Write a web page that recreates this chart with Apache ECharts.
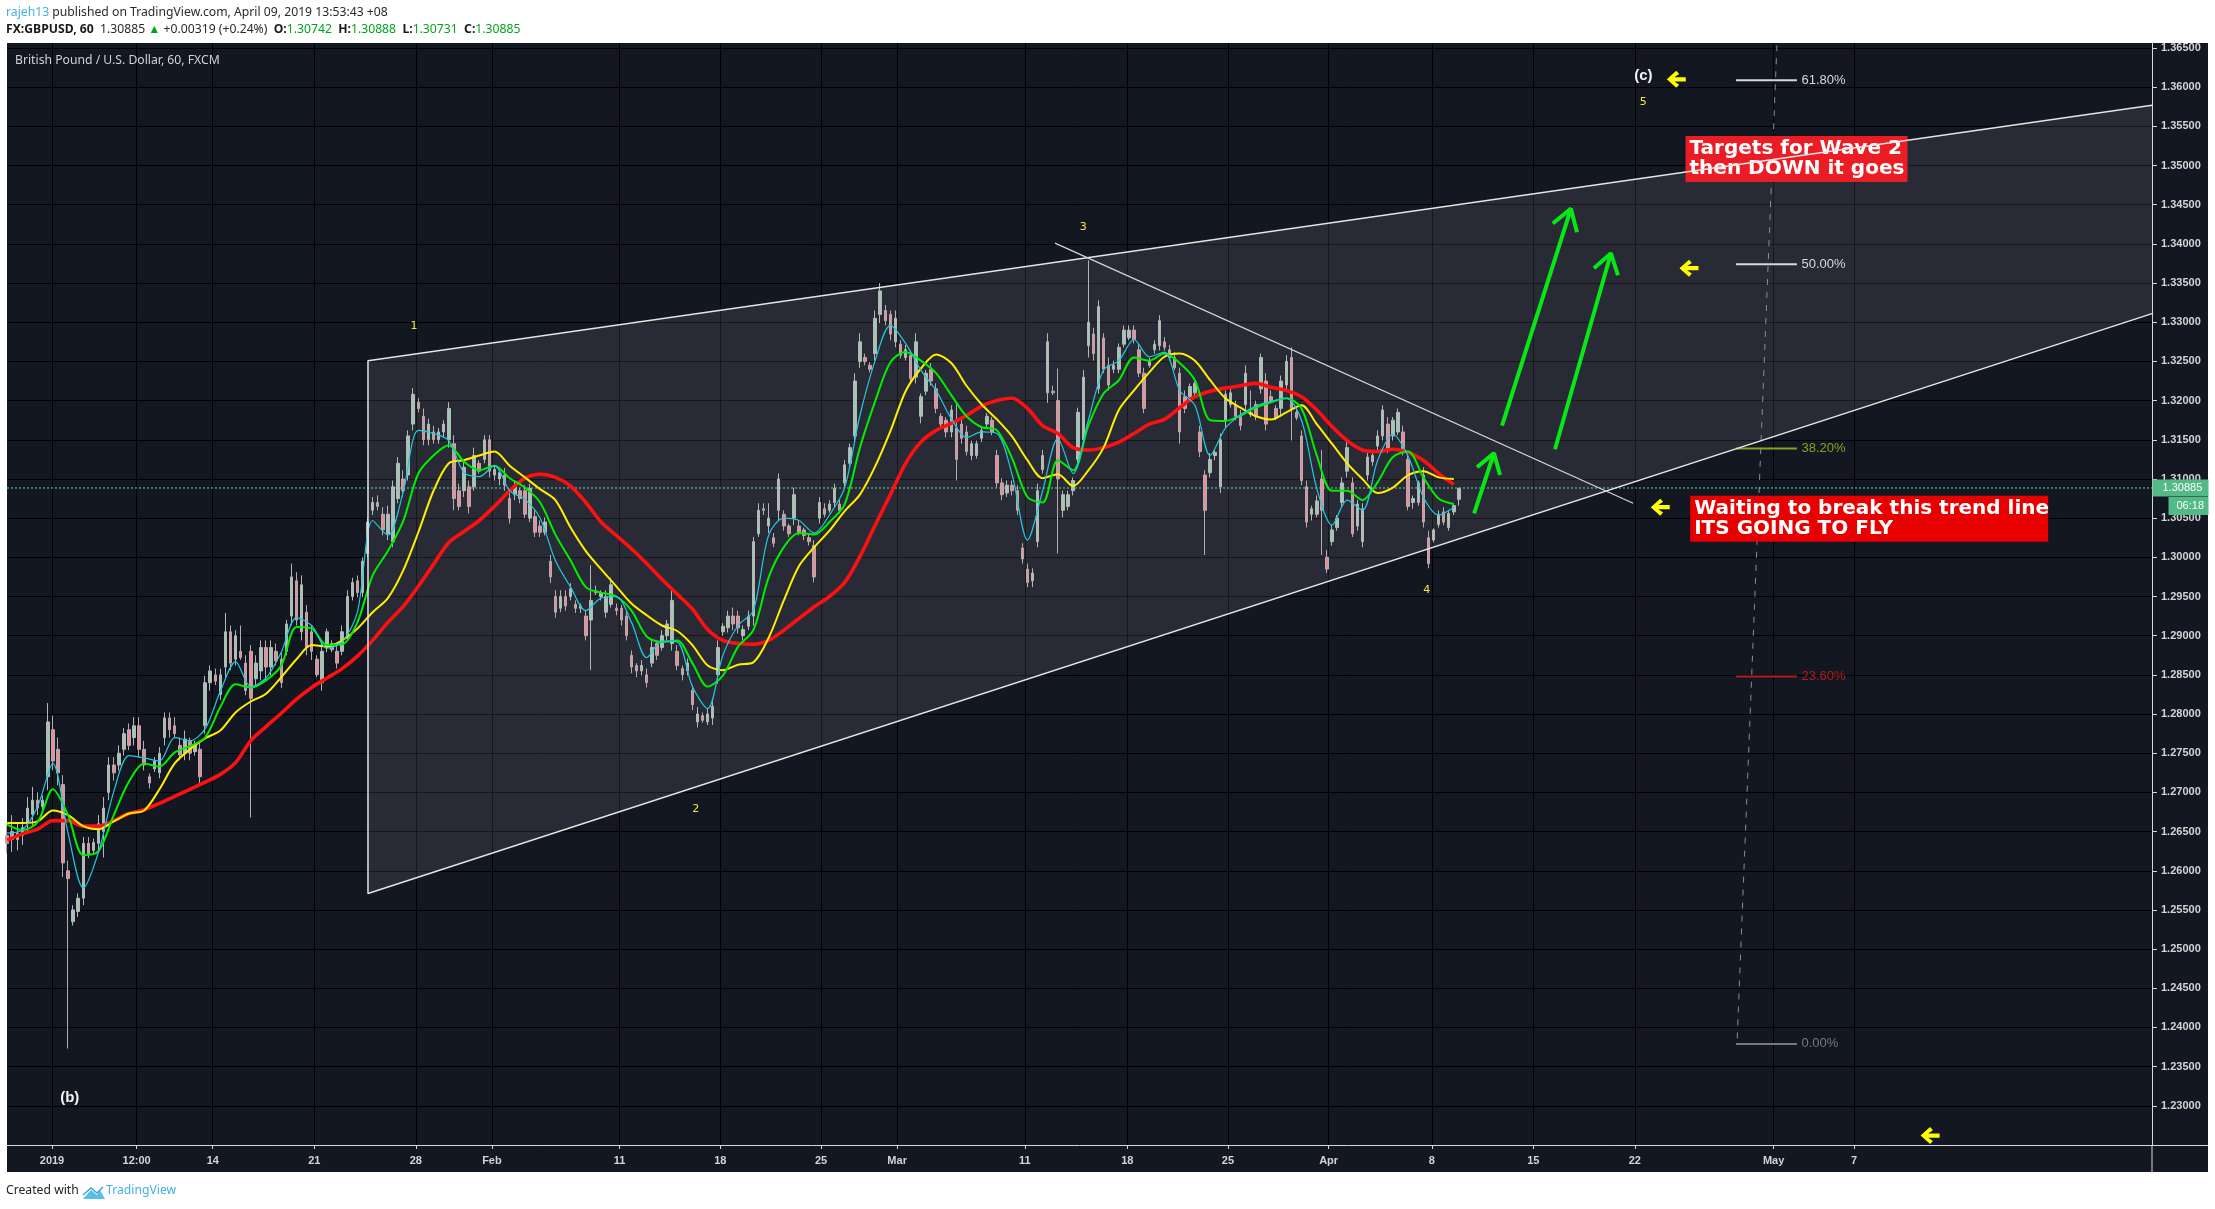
<!DOCTYPE html>
<html><head><meta charset="utf-8">
<style>html,body{margin:0;padding:0;background:#fff}#c{width:2215px;height:1209px}</style>
<script src="https://cdn.jsdelivr.net/npm/echarts@6/dist/echarts.min.js"></script>
</head><body><div id="c"></div>
<script>
const candleHigh=[
1.2658,1.2671,1.2662,1.2667,1.2694,1.2707,1.2700,1.2696,1.2814,1.2798,
1.2770,1.2722,1.2613,1.2556,1.2571,1.2643,1.2643,1.2641,1.2671,1.2694,
1.2745,1.2745,1.2760,1.2782,1.2788,1.2796,1.2796,1.2766,1.2724,1.2745,
1.2758,1.2802,1.2802,1.2796,1.2770,1.2779,1.2770,1.2766,1.2763,1.2849,
1.2862,1.2858,1.2858,1.2929,1.2913,1.2907,1.2913,1.2875,1.2888,1.2875,
1.2894,1.2894,1.2894,1.2890,1.2878,1.2920,1.2992,1.2981,1.2977,1.2939,
1.2913,1.2875,1.2890,1.2909,1.2894,1.2888,1.2913,1.2958,1.2974,1.2977,
1.3000,1.3051,1.3077,1.3079,1.3064,1.3066,1.3098,1.3128,1.3111,1.3162,
1.3216,1.3203,1.3190,1.3177,1.3168,1.3165,1.3175,1.3198,1.3156,1.3094,
1.3124,1.3098,1.3140,1.3124,1.3156,1.3156,1.3117,1.3111,1.3114,1.3082,
1.3098,1.3089,1.3092,1.3094,1.3060,1.3047,1.3051,1.3003,1.2958,1.2958,
1.2958,1.2967,1.2945,1.2941,1.2932,1.2990,1.2964,1.2958,1.2958,1.2974,
1.2941,1.2939,1.2932,1.2881,1.2865,1.2869,1.2858,1.2894,1.2894,1.2907,
1.2920,1.2958,1.2888,1.2862,1.2871,1.2837,1.2809,1.2802,1.2807,1.2818,
1.2894,1.2916,1.2932,1.2936,1.2932,1.2913,1.2932,1.3026,1.3069,1.3069,
1.3069,1.3031,1.3107,1.3060,1.3043,1.3089,1.3047,1.3038,1.3031,1.3022,
1.3077,1.3069,1.3073,1.3094,1.3073,1.3124,1.3145,1.3235,1.3286,1.3260,
1.3249,1.3315,1.3350,1.3322,1.3315,1.3315,1.3277,1.3271,1.3264,1.3286,
1.3209,1.3239,1.3248,1.3222,1.3184,1.3179,1.3194,1.3197,1.3179,1.3168,
1.3149,1.3149,1.3166,1.3184,1.3179,1.3137,1.3101,1.3098,1.3098,1.3092,
1.3018,1.2992,1.2986,1.3094,1.3137,1.3286,1.3219,1.3241,1.3085,1.3085,
1.3102,1.3191,1.3239,1.3379,1.3293,1.3328,1.3286,1.3255,1.3251,1.3273,
1.3296,1.3296,1.3296,1.3273,1.3242,1.3255,1.3277,1.3309,1.3281,1.3271,
1.3262,1.3242,1.3213,1.3222,1.3226,1.3168,1.3111,1.3133,1.3137,1.3158,
1.3213,1.3217,1.3200,1.3188,1.3245,1.3213,1.3200,1.3260,1.3235,1.3213,
1.3194,1.3232,1.3258,1.3268,1.3191,1.3162,1.3098,1.3066,1.3079,1.3137,
1.3009,1.3041,1.3054,1.3102,1.3147,1.3102,1.3073,1.3069,1.3133,1.3133,
1.3162,1.3194,1.3179,1.3179,1.3190,1.3168,1.3133,1.3079,1.3098,1.3115,
1.3034,1.3037,1.3060,1.3064,1.3060,1.3069,1.3089];
const candleLow=[
1.2622,1.2624,1.2626,1.2633,1.2648,1.2658,1.2671,1.2675,1.2703,1.2728,
1.2709,1.2592,1.2373,1.2530,1.2541,1.2556,1.2616,1.2622,1.2626,1.2617,
1.2690,1.2715,1.2728,1.2747,1.2754,1.2760,1.2745,1.2728,1.2705,1.2726,
1.2718,1.2760,1.2770,1.2770,1.2741,1.2741,1.2741,1.2747,1.2709,1.2775,
1.2830,1.2837,1.2818,1.2847,1.2856,1.2862,1.2869,1.2824,1.2668,1.2837,
1.2843,1.2843,1.2849,1.2862,1.2833,1.2875,1.2913,1.2913,1.2894,1.2875,
1.2869,1.2847,1.2830,1.2879,1.2879,1.2858,1.2875,1.2894,1.2945,1.2949,
1.2949,1.3000,1.3054,1.3060,1.3028,1.3022,1.3013,1.3069,1.3077,1.3098,
1.3162,1.3185,1.3143,1.3143,1.3145,1.3145,1.3153,1.3140,1.3060,1.3060,
1.3077,1.3056,1.3085,1.3107,1.3120,1.3102,1.3098,1.3092,1.3085,1.3043,
1.3073,1.3069,1.3050,1.3045,1.3026,1.3026,1.3028,1.2967,1.2923,1.2930,
1.2932,1.2945,1.2929,1.2929,1.2894,1.2856,1.2952,1.2945,1.2923,1.2936,
1.2926,1.2913,1.2894,1.2852,1.2847,1.2849,1.2834,1.2860,1.2869,1.2881,
1.2894,1.2881,1.2856,1.2843,1.2849,1.2805,1.2783,1.2789,1.2786,1.2786,
1.2839,1.2900,1.2904,1.2907,1.2903,1.2894,1.2907,1.2913,1.3026,1.3054,
1.3031,1.3013,1.3047,1.3034,1.3026,1.3041,1.3028,1.3022,1.3015,1.2968,
1.3043,1.3051,1.3057,1.3064,1.3056,1.3089,1.3115,1.3149,1.3242,1.3245,
1.3236,1.3251,1.3299,1.3296,1.3277,1.3268,1.3254,1.3251,1.3222,1.3222,
1.3171,1.3207,1.3219,1.3184,1.3166,1.3153,1.3153,1.3098,1.3145,1.3130,
1.3124,1.3126,1.3147,1.3166,1.3156,1.3089,1.3073,1.3077,1.3079,1.3054,
1.2992,1.2962,1.2962,1.3013,1.3107,1.3197,1.3207,1.3005,1.3051,1.3060,
1.3079,1.3120,1.3143,1.3255,1.3251,1.3209,1.3235,1.3213,1.3235,1.3235,
1.3268,1.3277,1.3273,1.3230,1.3184,1.3242,1.3260,1.3264,1.3264,1.3251,
1.3239,1.3145,1.3184,1.3200,1.3204,1.3128,1.3003,1.3102,1.3124,1.3082,
1.3166,1.3191,1.3175,1.3162,1.3188,1.3179,1.3175,1.3209,1.3162,1.3198,
1.3175,1.3181,1.3213,1.3149,1.3175,1.3092,1.3038,1.3047,1.3051,1.3003,
1.2980,1.3015,1.3034,1.3064,1.3102,1.3026,1.3034,1.3013,1.3098,1.3117,
1.3137,1.3149,1.3133,1.3149,1.3156,1.3130,1.3060,1.3062,1.3066,1.3038,
1.2986,1.3019,1.3038,1.3041,1.3034,1.3054,1.3066];
const candleOpen=[
1.2645,1.2650,1.2640,1.2645,1.2660,1.2672,1.2690,1.2682,1.2720,1.2780,
1.2755,1.2710,1.2600,1.2535,1.2548,1.2565,1.2635,1.2626,1.2635,1.2650,
1.2700,1.2735,1.2735,1.2755,1.2780,1.2770,1.2785,1.2755,1.2720,1.2730,
1.2725,1.2770,1.2795,1.2785,1.2760,1.2750,1.2765,1.2752,1.2755,1.2785,
1.2840,1.2850,1.2825,1.2860,1.2905,1.2870,1.2880,1.2865,1.2880,1.2845,
1.2855,1.2885,1.2860,1.2880,1.2870,1.2880,1.2925,1.2970,1.2905,1.2930,
1.2905,1.2870,1.2840,1.2885,1.2890,1.2880,1.2880,1.2900,1.2950,1.2970,
1.2955,1.3005,1.3060,1.3070,1.3055,1.3030,1.3020,1.3075,1.3100,1.3105,
1.3170,1.3198,1.3180,1.3150,1.3160,1.3150,1.3160,1.3150,1.3145,1.3085,
1.3085,1.3090,1.3090,1.3120,1.3125,1.3150,1.3105,1.3100,1.3105,1.3075,
1.3080,1.3085,1.3085,1.3050,1.3052,1.3040,1.3032,1.2995,1.2950,1.2935,
1.2950,1.2950,1.2940,1.2935,1.2925,1.2920,1.2957,1.2950,1.2930,1.2940,
1.2935,1.2935,1.2925,1.2875,1.2862,1.2855,1.2850,1.2865,1.2890,1.2885,
1.2900,1.2890,1.2880,1.2858,1.2855,1.2830,1.2790,1.2798,1.2790,1.2795,
1.2850,1.2905,1.2910,1.2925,1.2925,1.2900,1.2912,1.2925,1.3030,1.3062,
1.3040,1.3025,1.3060,1.3055,1.3040,1.3050,1.3040,1.3035,1.3025,1.3015,
1.3050,1.3062,1.3060,1.3070,1.3068,1.3095,1.3120,1.3155,1.3250,1.3255,
1.3245,1.3260,1.3310,1.3315,1.3310,1.3275,1.3272,1.3255,1.3258,1.3230,
1.3180,1.3212,1.3240,1.3215,1.3180,1.3175,1.3160,1.3165,1.3170,1.3160,
1.3130,1.3130,1.3152,1.3170,1.3175,1.3130,1.3095,1.3082,1.3092,1.3085,
1.3012,1.2985,1.2970,1.3020,1.3112,1.3210,1.3212,1.3200,1.3060,1.3065,
1.3085,1.3125,1.3150,1.3270,1.3285,1.3215,1.3280,1.3245,1.3240,1.3240,
1.3272,1.3280,1.3290,1.3265,1.3235,1.3245,1.3265,1.3270,1.3275,1.3265,
1.3255,1.3235,1.3205,1.3205,1.3210,1.3160,1.3105,1.3108,1.3130,1.3090,
1.3175,1.3195,1.3195,1.3180,1.3195,1.3185,1.3195,1.3215,1.3225,1.3205,
1.3190,1.3190,1.3220,1.3255,1.3185,1.3155,1.3090,1.3055,1.3055,1.3100,
1.3000,1.3020,1.3038,1.3070,1.3110,1.3095,1.3040,1.3020,1.3105,1.3122,
1.3142,1.3155,1.3170,1.3155,1.3160,1.3160,1.3125,1.3070,1.3070,1.3105,
1.3025,1.3022,1.3042,1.3058,1.3038,1.3058,1.3074];
const candleClose=[
1.2635,1.2640,1.2648,1.2655,1.2680,1.2690,1.2680,1.2690,1.2790,1.2740,
1.2725,1.2610,1.2590,1.2550,1.2565,1.2635,1.2622,1.2636,1.2660,1.2680,
1.2735,1.2725,1.2750,1.2775,1.2760,1.2785,1.2755,1.2735,1.2712,1.2740,
1.2750,1.2795,1.2780,1.2775,1.2748,1.2768,1.2750,1.2760,1.2720,1.2840,
1.2855,1.2842,1.2850,1.2905,1.2865,1.2900,1.2872,1.2830,1.2820,1.2865,
1.2885,1.2860,1.2885,1.2868,1.2840,1.2915,1.2975,1.2920,1.2965,1.2885,
1.2880,1.2850,1.2880,1.2905,1.2882,1.2865,1.2905,1.2950,1.2968,1.2955,
1.2995,1.3045,1.3070,1.3065,1.3035,1.3055,1.3090,1.3120,1.3085,1.3155,
1.3208,1.3190,1.3150,1.3170,1.3150,1.3160,1.3170,1.3190,1.3075,1.3065,
1.3115,1.3065,1.3130,1.3110,1.3150,1.3110,1.3112,1.3108,1.3092,1.3050,
1.3090,1.3075,1.3055,1.3088,1.3032,1.3032,1.3045,1.2975,1.2930,1.2950,
1.2938,1.2960,1.2935,1.2938,1.2900,1.2945,1.2955,1.2955,1.2950,1.2965,
1.2932,1.2920,1.2900,1.2860,1.2855,1.2862,1.2840,1.2885,1.2875,1.2900,
1.2915,1.2945,1.2862,1.2850,1.2865,1.2812,1.2800,1.2792,1.2800,1.2810,
1.2885,1.2912,1.2925,1.2915,1.2910,1.2908,1.2925,1.3020,1.3060,1.3060,
1.3050,1.3018,1.3100,1.3040,1.3030,1.3080,1.3032,1.3028,1.3020,1.2975,
1.3070,1.3055,1.3068,1.3088,1.3060,1.3118,1.3140,1.3225,1.3275,1.3250,
1.3240,1.3305,1.3340,1.3302,1.3285,1.3305,1.3258,1.3265,1.3228,1.3275,
1.3205,1.3235,1.3225,1.3190,1.3170,1.3160,1.3188,1.3125,1.3152,1.3135,
1.3145,1.3145,1.3162,1.3180,1.3160,1.3095,1.3080,1.3092,1.3085,1.3060,
1.2998,1.2968,1.2980,1.3085,1.3130,1.3275,1.3210,1.3100,1.3080,1.3080,
1.3098,1.3185,1.3230,1.3300,1.3260,1.3320,1.3240,1.3220,1.3245,1.3268,
1.3290,1.3290,1.3278,1.3235,1.3190,1.3250,1.3272,1.3302,1.3268,1.3255,
1.3242,1.3160,1.3190,1.3218,1.3222,1.3135,1.3060,1.3125,1.3134,1.3150,
1.3208,1.3210,1.3180,1.3168,1.3235,1.3182,1.3180,1.3255,1.3170,1.3200,
1.3178,1.3225,1.3250,1.3190,1.3178,1.3098,1.3045,1.3062,1.3072,1.3060,
1.2985,1.3035,1.3050,1.3095,1.3140,1.3030,1.3068,1.3062,1.3128,1.3130,
1.3155,1.3188,1.3138,1.3175,1.3185,1.3135,1.3065,1.3075,1.3095,1.3045,
1.2992,1.3035,1.3055,1.3045,1.3056,1.3066,1.3088];

const maRed=[1.2639,1.2647,1.2653,1.2664,1.2664,1.2657,1.2657,1.2664,1.2673,1.2678,1.2686,1.2695,1.2704,1.2713,1.2723,1.2738,1.2766,1.2784,1.2801,1.2819,1.2834,1.2846,1.2858,1.2874,1.2894,1.2917,1.2937,1.2963,1.2991,1.3019,1.3033,1.3047,1.3065,1.3085,1.3101,1.3106,1.3102,1.3091,1.3070,1.3045,1.3028,1.3011,1.2992,1.2972,1.2953,1.2934,1.2908,1.2894,1.2890,1.2889,1.2894,1.2907,1.2922,1.2937,1.2950,1.2968,1.3001,1.3041,1.3080,1.3120,1.3147,1.3162,1.3171,1.3181,1.3193,1.3200,1.3203,1.3190,1.3168,1.3158,1.3140,1.3137,1.3140,1.3147,1.3158,1.3170,1.3176,1.3191,1.3205,1.3212,1.3216,1.3219,1.3222,1.3217,1.3213,1.3205,1.3188,1.3167,1.3149,1.3137,1.3135,1.3138,1.3134,1.3124,1.3107,1.3093];
const maYellow=[1.2661,1.2661,1.2663,1.2677,1.2671,1.2657,1.2653,1.2663,1.2673,1.2677,1.2704,1.2737,1.2755,1.2769,1.2779,1.2802,1.2816,1.2826,1.2847,1.2870,1.2888,1.2886,1.2894,1.2909,1.2930,1.2948,1.2983,1.3032,1.3085,1.3120,1.3124,1.3130,1.3135,1.3117,1.3102,1.3087,1.3073,1.3038,1.3008,1.2985,1.2963,1.2941,1.2926,1.2913,1.2906,1.2888,1.2862,1.2856,1.2863,1.2866,1.2897,1.2945,1.2989,1.3013,1.3034,1.3059,1.3080,1.3116,1.3161,1.3212,1.3241,1.3259,1.3248,1.3219,1.3195,1.3176,1.3154,1.3124,1.3101,1.3106,1.3091,1.3111,1.3140,1.3188,1.3213,1.3236,1.3256,1.3260,1.3251,1.3226,1.3203,1.3191,1.3180,1.3176,1.3185,1.3194,1.3170,1.3145,1.3120,1.3100,1.3082,1.3089,1.3105,1.3110,1.3102,1.3100];
const maGreen=[1.2659,1.2652,1.2662,1.2704,1.2671,1.2620,1.2625,1.2671,1.2714,1.2737,1.2733,1.2751,1.2759,1.2770,1.2809,1.2838,1.2834,1.2843,1.2862,1.2911,1.2909,1.2888,1.2889,1.2917,1.2977,1.3008,1.3046,1.3107,1.3130,1.3143,1.3122,1.3111,1.3117,1.3101,1.3089,1.3070,1.3029,1.2996,1.2962,1.2955,1.2950,1.2932,1.2899,1.2892,1.2894,1.2865,1.2835,1.2849,1.2886,1.2907,1.2974,1.3013,1.3031,1.3029,1.3045,1.3068,1.3140,1.3199,1.3249,1.3262,1.3251,1.3235,1.3207,1.3180,1.3166,1.3162,1.3126,1.3077,1.3070,1.3124,1.3111,1.3168,1.3209,1.3226,1.3255,1.3251,1.3260,1.3248,1.3226,1.3175,1.3174,1.3181,1.3191,1.3198,1.3203,1.3190,1.3130,1.3085,1.3085,1.3073,1.3096,1.3128,1.3135,1.3102,1.3075,1.3068];
const maCyan=[1.2648,1.2652,1.2682,1.2737,1.2648,1.2578,1.2624,1.2701,1.2747,1.2744,1.2740,1.2770,1.2766,1.2781,1.2829,1.2867,1.2835,1.2846,1.2879,1.2923,1.2913,1.2884,1.2892,1.2930,1.3047,1.3028,1.3083,1.3162,1.3158,1.3149,1.3108,1.3103,1.3117,1.3085,1.3074,1.3050,1.2996,1.2962,1.2932,1.2948,1.2950,1.2917,1.2872,1.2893,1.2892,1.2835,1.2807,1.2875,1.2913,1.2932,1.3028,1.3050,1.3047,1.3031,1.3054,1.3089,1.3181,1.3251,1.3296,1.3273,1.3239,1.3213,1.3177,1.3153,1.3160,1.3158,1.3105,1.3022,1.3085,1.3152,1.3107,1.3175,1.3239,1.3251,1.3278,1.3256,1.3262,1.3213,1.3194,1.3130,1.3165,1.3182,1.3193,1.3199,1.3203,1.3175,1.3088,1.3041,1.3073,1.3060,1.3124,1.3157,1.3129,1.3077,1.3054,1.3064];

const priceTicks=[1.23,1.235,1.24,1.245,1.25,1.255,1.26,1.265,1.27,1.275,1.28,1.285,1.29,1.295,1.30,1.305,1.31,1.315,1.32,1.325,1.33,1.335,1.34,1.345,1.35,1.355,1.36,1.365];
const timeTickBars=[0,100,190,310,430,520,671,790,909,999,1150,1271,1390,1509,1631,1751,1871,2035,2130];
const timeTickLabels=['2019','12:00','14','21','28','Feb','11','18','25','Mar','11','18','25','Apr','8','15','22','May','7'];
const lastPrice=1.30885;
const wedgeBar=[373.5,2482.3,2482.3,373.5];
const wedgePrice=[1.3251,1.3577,1.3311,1.2571];
const downTrendBar=[1185.6,1869];
const downTrendPrice=[1.3401,1.3069];
const fibLevels=[1.3609,1.3374,1.3139,1.2848,1.2379];
const fibLabels=['61.80%','50.00%','38.20%','23.60%','0.00%'];
const fibColors=['#d8d8d8','#d8d8d8','#7fa71c','#b71c1c','#787878'];
const fibStartBar=1990.5, fibEndBar=2062.6;
const fibTrendBar=[1992,2039];
const fibTrendPrice=[1.2386,1.3656];
const arrowBars=[[1714,1795.5,1774,1795.5,1802.6],[1776.6,1842.8,1822.7,1842.8,1851],[1681,1704.5,1684.4,1704.5,1711.6]];
const arrowPrices=[[1.3168,1.3445,1.3426,1.3445,1.3415],[1.3138,1.3388,1.3369,1.3388,1.3360],[1.3056,1.3133,1.3115,1.3133,1.3105]];
const yellowArrowBars=[1920,1935,1901,2220];
const yellowArrowPrices=[1.3610,1.3369,1.3064,1.2262];
const waveText=['1','2','3','4','5'];
const waveBars=[428,761,1219,1625,1881];
const wavePrices=[1.3295,1.2678,1.3422,1.2958,1.3581];

const X_MIN=-53.2, X_MAX=2482.3, Y_MIN=1.225, Y_MAX=1.36564;
const candleData=candleHigh.map((h,i)=>[-53+6*i,candleOpen[i],candleClose[i],candleLow[i],h]);
const pairs=(xs,ys)=>xs.map((x,i)=>[x,ys[i]]);
const maBars=maRed.map((_,k)=>-53+18*k);
function lineS(xs,ys,color,width,z,extra){
  return Object.assign({type:'line',data:pairs(xs,ys),symbol:'none',silent:true,z:z,
    lineStyle:{color:color,width:width},clip:true},extra||{});
}
const hide={color:'transparent',opacity:1};
function textS(points,z){
  return {type:'scatter',symbol:'circle',symbolSize:1,itemStyle:hide,silent:true,z:z,data:points};
}
const series=[];
series.push({type:'custom',silent:true,z:1,data:[[0]],
  renderItem:(p,api)=>({type:'polygon',shape:{points:wedgeBar.map((x,i)=>api.coord([x,wedgePrice[i]]))},
    style:{fill:'rgba(255,255,255,0.09)'}})});
series.push(lineS(fibTrendBar,fibTrendPrice,'#8a8d94',1,2,{lineStyle:{color:'#8a8d94',width:1,type:[6,7]}}));
series.push(lineS([X_MIN,X_MAX],[lastPrice,lastPrice],'#5fd6a5',1,2,{lineStyle:{color:'#5fd6a5',width:1,type:[2,2]}}));
fibLevels.forEach((v,i)=>series.push(lineS([fibStartBar,fibEndBar],[v,v],fibColors[i],2,2)));
series.push(textS(fibLevels.map((v,i)=>({value:[fibEndBar,v],label:{show:true,position:'right',distance:4,formatter:fibLabels[i],
  color:fibColors[i],fontFamily:'"Liberation Sans"',fontSize:13}})),3));
series.push(textS([{value:[1931.5,1.3537],label:{show:true,position:[0,0],align:'left',verticalAlign:'top',
  formatter:'Targets for Wave 2\nthen DOWN it goes',color:'#fff',fontFamily:'"DejaVu Sans"',fontWeight:'bold',fontSize:20,lineHeight:20,
  backgroundColor:'#ec1c24',padding:[3,4,3,4],width:214}}],3));
series.push({type:'candlestick',data:candleData,encode:{x:0,y:[1,2,3,4]},barWidth:3,silent:true,z:5,
  itemStyle:{color:'#9fc9b4',color0:'#e48f9a',borderColor:'#b6b6b6',borderColor0:'#b6aaac',borderWidth:1}});
series.push(lineS(maBars,maRed,'#ff1010',3.6,6,{smooth:0.3}));
series.push(lineS(maBars,maYellow,'#ffee00',2,7,{smooth:0.3}));
series.push(lineS(maBars,maGreen,'#00ee00',2,8,{smooth:0.3}));
series.push(lineS(maBars,maCyan,'#22c8dc',1.2,9,{smooth:0.3}));
series.push(lineS([wedgeBar[1],wedgeBar[0],wedgeBar[3],wedgeBar[2]],[wedgePrice[1],wedgePrice[0],wedgePrice[3],wedgePrice[2]],'#e4e4e4',1.5,10));
series.push(lineS(downTrendBar,downTrendPrice,'#d6d6d6',1.2,10));
arrowBars.forEach((xs,i)=>series.push(lineS(xs,arrowPrices[i],'#08e817',4,11)));
series.push({type:'scatter',silent:true,z:11,symbolSize:[19,17],itemStyle:{color:'#ffff00',opacity:1},
  symbol:'path://M10 0 L0 8 L10 16 L13 13 L8 10 L20 10 L20 6 L8 6 L13 3 Z',data:pairs(yellowArrowBars,yellowArrowPrices)});
series.push(textS(waveText.map((t,i)=>({value:[waveBars[i],wavePrices[i]],label:{show:true,position:'inside',formatter:t,
  color:'#f5e642',fontFamily:'"DejaVu Sans"',fontSize:11}})),12));
series.push(textS([
  {value:[21,1.2310],label:{show:true,position:'inside',formatter:'(b)',color:'#f2f2f2',fontFamily:'"Liberation Sans"',fontWeight:'bold',fontSize:15}},
  {value:[1881,1.3614],label:{show:true,position:'inside',formatter:'(c)',color:'#f2f2f2',fontFamily:'"Liberation Sans"',fontWeight:'bold',fontSize:15}}],12));
series.push(textS([{value:[1937,1.3078],label:{show:true,position:[0,0],align:'left',verticalAlign:'top',
  formatter:'Waiting to break this trend line\nITS GOING TO FLY',color:'#fff',fontFamily:'"DejaVu Sans"',fontWeight:'bold',fontSize:20,lineHeight:20,
  backgroundColor:'#e80000',padding:[3,4,3,4],width:350}}],12));
series.push(Object.assign(textS([
  {value:[X_MAX,lastPrice],label:{show:true,position:'right',distance:0,align:'left',verticalAlign:'middle',formatter:'1.30885',color:'#fff',
    fontFamily:'"Liberation Sans"',fontSize:11,backgroundColor:'#53b987',width:46,height:17,padding:[0,0,0,10]}},
  {value:[X_MAX,lastPrice],label:{show:true,position:'right',distance:0,offset:[16,18],align:'left',verticalAlign:'middle',formatter:'06:18',color:'#fff',
    fontFamily:'"Liberation Sans"',fontSize:11,backgroundColor:'#53b987',width:32,height:18,padding:[0,0,0,8]}}],13),{clip:false}));

const hdr='"Noto Sans"';
const hs=12.2;
const option={
  animation:false,backgroundColor:'#ffffff',
  grid:{left:7,top:43,width:2145,height:1102,containLabel:false},
  xAxis:{type:'value',min:X_MIN,max:X_MAX,
    axisLine:{onZero:false,lineStyle:{color:'#d8d8d8',width:1}},
    axisTick:{length:4,lineStyle:{color:'#d8d8d8'},customValues:timeTickBars},
    splitLine:{show:true,lineStyle:{color:'#000',width:1}},
    axisLabel:{customValues:timeTickBars,formatter:v=>timeTickLabels[timeTickBars.indexOf(v)],color:'#d4d4d4',fontFamily:'"Liberation Sans"',fontSize:11,margin:10,fontWeight:'bold'}},
  yAxis:{type:'value',position:'right',min:Y_MIN,max:Y_MAX,scale:true,
    axisLine:{show:true,onZero:false,lineStyle:{color:'#d8d8d8',width:1}},
    axisTick:{show:true,length:5,lineStyle:{color:'#d8d8d8'},customValues:priceTicks},
    splitLine:{show:true,lineStyle:{color:'#000',width:1}},
    axisLabel:{customValues:priceTicks,formatter:v=>v.toFixed(5),color:'#d4d4d4',fontFamily:'"Liberation Sans"',fontSize:11,margin:9,fontWeight:'bold'}},
  series:series,
  graphic:[
    {type:'rect',z:-10,silent:true,shape:{x:7,y:43,width:2201,height:1129},style:{fill:'#131722'}},
    {type:'line',z:20,silent:true,shape:{x1:2152,y1:1145,x2:2152,y2:1172},style:{stroke:'#d8d8d8',lineWidth:1}},
    {type:'line',z:20,silent:true,shape:{x1:2152,y1:1145.5,x2:2208,y2:1145.5},style:{stroke:'#d8d8d8',lineWidth:1}},
    {type:'text',z:20,silent:true,x:6,y:7,style:{text:'{a|rajeh13}{b| published on TradingView.com, April 09, 2019 13:53:43 +08}',
      rich:{a:{fill:'#3fb0e0',fontFamily:hdr,fontSize:hs},b:{fill:'#2a2a2a',fontFamily:hdr,fontSize:hs}}}},
    {type:'text',z:20,silent:true,x:6,y:24,style:{text:'{k|FX:GBPUSD, 60}{b|  1.30885 }{g|▲}{b| +0.00319 (+0.24%)  }{k|O:}{g|1.30742}{k|  H:}{g|1.30888}{k|  L:}{g|1.30731}{k|  C:}{g|1.30885}',
      rich:{k:{fill:'#1a1a1a',fontFamily:hdr,fontSize:hs,fontWeight:'bold'},b:{fill:'#2a2a2a',fontFamily:hdr,fontSize:hs},g:{fill:'#00a51a',fontFamily:hdr,fontSize:hs}}}},
    {type:'text',z:20,silent:true,x:15,y:55,style:{text:'British Pound / U.S. Dollar, 60, FXCM',fill:'#cfd2d6',fontFamily:hdr,fontSize:hs}},
    {type:'text',z:20,silent:true,x:6,y:1185,style:{text:'Created with',fill:'#222',fontFamily:hdr,fontSize:hs}},
    {type:'polygon',z:20,silent:true,shape:{points:[[83,1199],[91,1190],[97,1195],[100,1190],[105,1199]]},style:{fill:'#58bfe8'}},
    {type:'polyline',z:21,silent:true,shape:{points:[[83,1195],[91,1188],[97,1193],[103,1187]]},style:{stroke:'#3aa5d6',fill:'none',lineWidth:1.5}},
    {type:'text',z:20,silent:true,x:106,y:1185,style:{text:'TradingView',fill:'#3fb0e0',fontFamily:hdr,fontSize:hs}}
  ]
};
const chart=echarts.init(document.getElementById('c'),null,{renderer:'canvas',width:2215,height:1209});
chart.setOption(option);
</script></body></html>
